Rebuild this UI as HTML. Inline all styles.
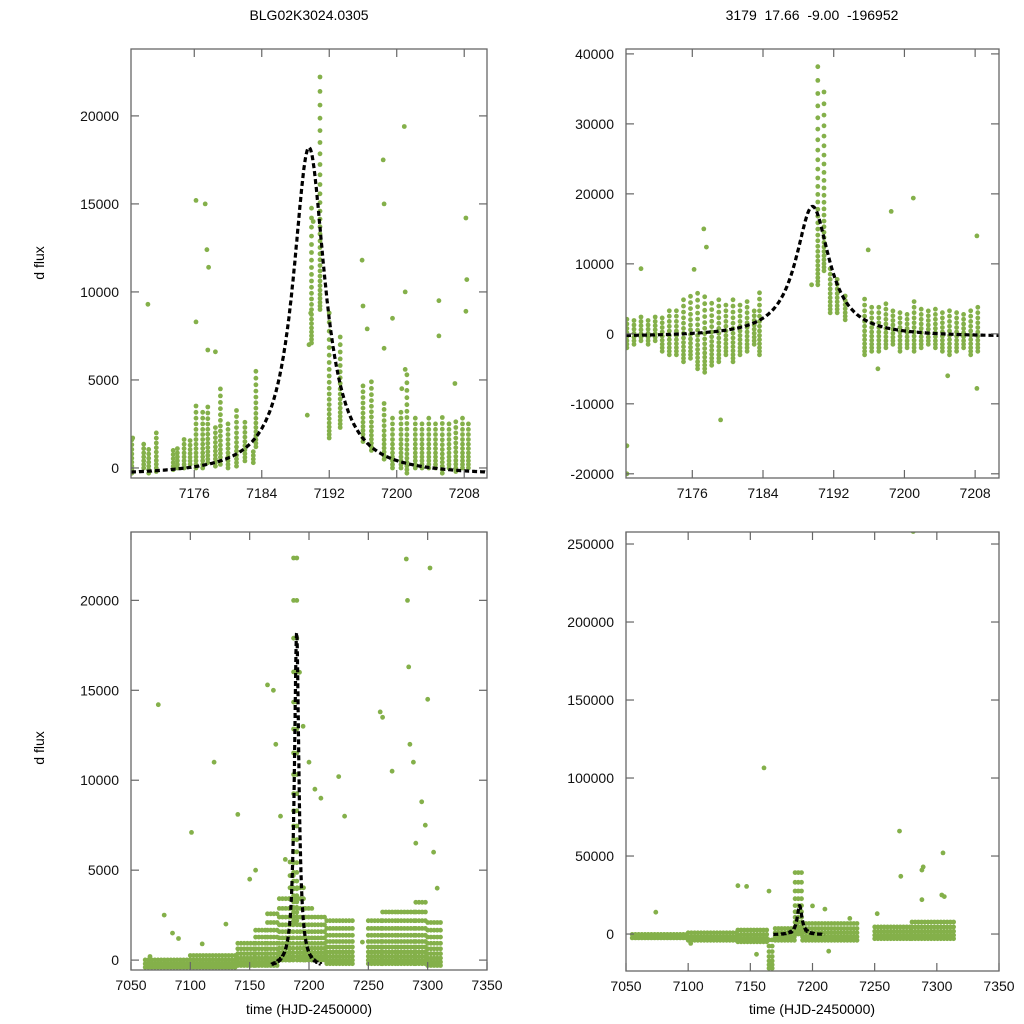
<!DOCTYPE html>
<html><head><meta charset="utf-8"><style>
html,body{margin:0;padding:0;background:#fff;}
svg{display:block;font-family:"Liberation Sans",sans-serif;}
</style></head><body>
<svg id="chart" width="1024" height="1024" viewBox="0 0 1024 1024">
<text x="309" y="20" text-anchor="middle" font-size="14">BLG02K3024.0305</text>
<text x="812" y="20" text-anchor="middle" font-size="14" xml:space="preserve">3179  17.66  -9.00  -196952</text>
<text transform="translate(44,263) rotate(-90)" text-anchor="middle" font-size="14">d flux</text>
<text transform="translate(44,748) rotate(-90)" text-anchor="middle" font-size="14">d flux</text>
<text x="309" y="1014" text-anchor="middle" font-size="14">time (HJD-2450000)</text>
<text x="812" y="1014" text-anchor="middle" font-size="14">time (HJD-2450000)</text>
</svg>
<script>
// ---- model fit parameters ----
const fitT0 = [7189.6];
const fitWidth = [2.3];
const fitAmp = [18650];
const fitBase = [-450];

// ---- top-left (zoom) data: observation columns [time, low, high] ----
const tlColT  = [7168.6,7170.0,7170.6,7171.5,7173.5,7174.0,7174.8,7175.5,7176.2,7177.0,7177.6,7178.5,7179.1,7180.0,7181.0,7182.0,7183.0,7183.3,7189.9,7190.9,7192.0,7193.3,7196.0,7197.0,7198.5,7199.5,7200.5,7201.2,7202.2,7203.0,7203.8,7204.6,7205.4,7206.2,7207.0,7207.8,7208.5];
const tlColLo = [-300,0,-300,-200,-100,0,0,200,0,0,300,100,200,0,100,400,300,1200,7100,9000,1700,2300,1500,1000,500,0,0,-300,0,0,0,0,-300,0,-200,0,0];
const tlColHi = [1800,1500,1300,2000,1100,1300,1700,1800,3800,3300,3600,2400,4500,2600,3300,2700,1100,5500,15000,22600,9000,7500,5000,5000,4000,3000,3200,5500,3000,2700,3000,2800,3000,2600,2800,3000,2500];
const tlOutT = [7168.7,7170.5,7176.2,7176.2,7177.3,7177.5,7177.7,7177.6,7178.5,7189.4,7189.6,7189.8,7190.1,7195.9,7196.0,7196.5,7198.4,7198.5,7198.5,7199.5,7200.9,7201.0,7201.0,7200.6,7205.0,7205.0,7206.9,7208.2,7208.3,7208.2];
const tlOutF = [1700,9300,15200,8300,15000,12400,11400,6700,6600,3000,7000,8800,14000,11800,9200,7900,17500,15000,6800,8500,19400,10000,5600,4500,9500,7500,4800,14200,10700,8900];

// ---- top-right (zoom) data ----
const trColT  = [7168.6,7169.4,7170.2,7171.0,7171.8,7172.6,7173.4,7174.2,7175.0,7175.8,7176.6,7177.4,7178.2,7179.0,7179.8,7180.6,7181.4,7182.2,7183.0,7183.6,7190.2,7190.9,7191.6,7192.4,7193.3,7195.5,7196.3,7197.1,7197.9,7198.7,7199.5,7200.3,7201.1,7201.9,7202.7,7203.5,7204.3,7205.1,7205.9,7206.7,7207.5,7208.3];
const trColLo = [-2000,-1500,-1000,-1500,-1000,-2500,-3000,-3000,-4000,-3500,-5000,-5500,-4500,-4000,-3000,-4000,-3000,-2500,-1500,-3000,7000,9000,3000,3000,2000,-3000,-2500,-2500,-2000,-1500,-2500,-2000,-2500,-2000,-1500,-2000,-2500,-3000,-2500,-2000,-3000,-2500];
const trColHi = [2500,2000,3000,2500,3000,2500,3500,4000,5000,5500,6000,5500,5000,5500,4500,5000,4500,5000,4000,6000,40000,36000,10000,8000,6000,5000,4500,4000,5000,4000,3500,3500,5000,4000,3500,4000,3500,4000,3500,3000,3500,4000];
const trOutT = [7168.6,7168.6,7170.2,7176.2,7177.3,7177.6,7179.2,7189.5,7195.9,7198.5,7201.0,7204.9,7208.2,7208.2,7197.0];
const trOutF = [-16000,-20000,9300,9200,15000,12400,-12300,7000,12000,17500,19400,-6000,14000,-7800,-5000];

// ---- bottom-left (full season) data: segments [start, end, low, high] ----
const blSegStart = [7062,7100,7140,7155,7165,7175,7184,7187,7190,7197,7205,7215,7250,7262,7275,7290,7300];
const blSegEnd   = [7100,7140,7155,7165,7175,7184,7187,7190,7197,7205,7215,7238,7262,7275,7290,7300,7312];
const blSegLo    = [-400,-400,-300,-300,-300,0,0,2000,0,0,0,-200,-200,-200,-200,-200,-300];
const blSegHi    = [200,400,1200,2000,3000,4000,5500,22600,4500,3200,2600,2400,2400,2700,2900,3300,2500];
const blOutT = [7073,7078,7085,7101,7120,7140,7165,7170,7172,7176,7180,7192,7195,7200,7205,7210,7225,7230,7260,7262,7270,7282,7283,7284,7285,7288,7295,7298,7302,7305,7300,7066,7090,7110,7130,7150,7155,7245,7290,7308];
const blOutF = [14200,2500,1500,7100,11000,8100,15300,15000,12000,8000,5600,16000,13000,11000,9500,9000,10200,8000,13800,13500,10500,22300,20000,16300,12000,11000,8800,7500,21800,6000,14500,200,1200,900,2000,4500,5000,1000,6500,4000];

// ---- bottom-right (full season) data ----
const brSegStart = [7055,7100,7140,7165,7170,7186,7192,7250,7280];
const brSegEnd   = [7100,7140,7165,7168,7186,7192,7238,7280,7314];
const brSegLo    = [-2500,-4000,-5000,-22000,-4000,0,-4000,-3000,-3000];
const brSegHi    = [1500,2500,5000,-3000,6000,40000,8000,6000,10000];
const brOutT = [7161,7281,7270,7271,7288,7289,7305,7304,7306,7140,7147,7165,7074,7288,7200,7210,7252,7155,7102,7213,7230];
const brOutF = [106500,258000,66000,37000,41000,43000,52000,25000,24000,31000,30500,27500,14000,22000,18000,16000,13000,-13000,-6000,-11000,10000];

const GREEN = '#84b04a';
const svg = document.getElementById('chart');
const NS = 'http://www.w3.org/2000/svg';
function mk(tag, attrs){const e=document.createElementNS(NS,tag);for(const k in attrs)e.setAttribute(k,attrs[k]);return e;}

function panel(cfg){
  const g = mk('g',{});
  
  
  svg.appendChild(g);
  const X = t => cfg.x0 + (t - cfg.tmin)/(cfg.tmax - cfg.tmin)*(cfg.x1 - cfg.x0);
  const Y = f => cfg.y1 - (f - cfg.fmin)/(cfg.fmax - cfg.fmin)*(cfg.y1 - cfg.y0);
  const clip = mk('clipPath',{id:'clip-'+cfg.name});
  clip.appendChild(mk('rect',{x:cfg.x0,y:cfg.y0,width:cfg.x1-cfg.x0,height:cfg.y1-cfg.y0}));
  g.appendChild(clip);
  const dots = mk('g',{fill:GREEN,'clip-path':'url(#clip-'+cfg.name+')'});
  
  
  g.appendChild(dots);
  const dot=(t,f)=>{const c=mk('circle',{cx:X(t).toFixed(1),cy:Y(f).toFixed(1),r:2.4});dots.appendChild(c);};
  const column=(t,lo,hi,k)=>{const pyLo=Y(lo),pyHi=Y(hi);let p=pyLo;while(p>=pyHi-0.1){dots.appendChild(mk('circle',{cx:X(t).toFixed(1),cy:p.toFixed(1),r:2.4}));p-=3.5+k*(pyLo-p);}};
  if(cfg.colT){cfg.colT.forEach((t,i)=>column(t,cfg.colLo[i],cfg.colHi[i],0.05));}
  if(cfg.segS){cfg.segS.forEach((s,i)=>{const xs=X(s),xe=X(cfg.segE[i]);for(let px=xs;px<=xe;px+=3.2){const t=cfg.tmin+(px-cfg.x0)/(cfg.x1-cfg.x0)*(cfg.tmax-cfg.tmin);column(t,cfg.segLo[i],cfg.segHi[i],0.12);}});}
  cfg.outT.forEach((t,i)=>dot(t,cfg.outF[i]));
  let d='';
  for(let t=cfg.fitFrom;t<=cfg.fitTo;t+=0.05){
    const z=(t-fitT0[0])/fitWidth[0];
    const f=fitBase[0]+fitAmp[0]/(1+z*z);
    d+=(d?'L':'M')+X(t).toFixed(1)+','+Math.min(Y(f),cfg.y1-1.5).toFixed(1);
  }
  const fit=mk('path',{d:d,fill:'none',stroke:'#000','stroke-width':3.2,'stroke-dasharray':'5,3','clip-path':'url(#clip-'+cfg.name+')'});
  
  
  g.appendChild(fit);
  const frame=mk('rect',{x:cfg.x0,y:cfg.y0,width:cfg.x1-cfg.x0,height:cfg.y1-cfg.y0,fill:'none',stroke:'#666','stroke-width':1.3});
  
  
  g.appendChild(frame);
  cfg.xt.forEach(v=>{
    const x=X(v);
    g.appendChild(mk('line',{x1:x,y1:cfg.y1,x2:x,y2:cfg.y1-8,stroke:'#666','stroke-width':1.2}));
    g.appendChild(mk('line',{x1:x,y1:cfg.y0,x2:x,y2:cfg.y0+8,stroke:'#666','stroke-width':1.2}));
    const tx=mk('text',{x:x,y:cfg.y1+20,'text-anchor':'middle','font-size':14,fill:'#111'});
    tx.textContent=v;
    
    
    g.appendChild(tx);
  });
  cfg.yt.forEach(v=>{
    const y=Y(v);
    g.appendChild(mk('line',{x1:cfg.x0,y1:y,x2:cfg.x0+8,y2:y,stroke:'#666','stroke-width':1.2}));
    g.appendChild(mk('line',{x1:cfg.x1,y1:y,x2:cfg.x1-8,y2:y,stroke:'#666','stroke-width':1.2}));
    const tx=mk('text',{x:cfg.x0-12,y:y+5,'text-anchor':'end','font-size':14,fill:'#111'});
    tx.textContent=v;
    
    
    g.appendChild(tx);
  });
}

panel({name:'panel-top-left',x0:131,x1:487,y0:49,y1:478,tmin:7168.5,tmax:7210.7,fmin:-570,fmax:23800,
  colT:tlColT,colLo:tlColLo,colHi:tlColHi,outT:tlOutT,outF:tlOutF,fitFrom:7168.5,fitTo:7210.7,
  xt:[7176,7184,7192,7200,7208],yt:[0,5000,10000,15000,20000]});
panel({name:'panel-top-right',x0:626,x1:999,y0:49,y1:478,tmin:7168.5,tmax:7210.7,fmin:-20600,fmax:40700,
  colT:trColT,colLo:trColLo,colHi:trColHi,outT:trOutT,outF:trOutF,fitFrom:7168.5,fitTo:7210.7,
  xt:[7176,7184,7192,7200,7208],yt:[-20000,-10000,0,10000,20000,30000,40000]});
panel({name:'panel-bottom-left',x0:131,x1:487,y0:532,y1:970,tmin:7050,tmax:7350,fmin:-550,fmax:23800,
  segS:blSegStart,segE:blSegEnd,segLo:blSegLo,segHi:blSegHi,outT:blOutT,outF:blOutF,fitFrom:7168.5,fitTo:7210,
  xt:[7050,7100,7150,7200,7250,7300,7350],yt:[0,5000,10000,15000,20000]});
panel({name:'panel-bottom-right',x0:626,x1:999,y0:532,y1:971,tmin:7050,tmax:7350,fmin:-23700,fmax:257700,
  segS:brSegStart,segE:brSegEnd,segLo:brSegLo,segHi:brSegHi,outT:brOutT,outF:brOutF,fitFrom:7168.5,fitTo:7210,
  xt:[7050,7100,7150,7200,7250,7300,7350],yt:[0,50000,100000,150000,200000,250000]});
</script>
</body></html>
